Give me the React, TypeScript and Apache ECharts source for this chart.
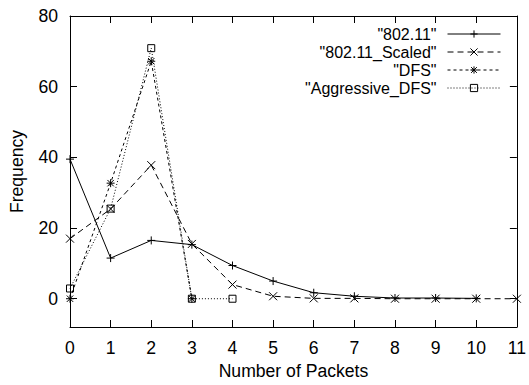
import React, { useEffect, useRef } from "react";
import * as echarts from "echarts";

const packets = [0, 1, 2, 3, 4, 5, 6, 7, 8, 9, 10, 11];
const seriesNames = ['"802.11"', '"802.11_Scaled"', '"DFS"', '"Aggressive_DFS"'];
const v80211 = [39.5, 11.5, 16.5, 15.3, 9.4, 5.0, 1.7, 0.7, 0.2, 0.2, 0.1];
const v80211Scaled = [17, 25.4, 37.8, 15.5, 4.0, 0.7, 0.1, 0.1, 0, 0, 0, 0];
const vDFS = [0, 32.7, 67.2, 0];
const vAggressive = [2.9, 25.5, 70.9, 0, 0];
const yTicks = [0, 20, 40, 60, 80];

const FONT = "'Liberation Sans', Arial, sans-serif";
const FS = 17.6;
const LEGEND_FS = 16;

const PLUS = "path://M0,5L10,5M5,0L5,10";
const CROSS = "path://M0,0L10,10M10,0L0,10";
const STAR = "path://M0,5L10,5M5,0L5,10M1,1L9,9M9,1L1,9";
const SQUARE = "path://M0,0L10,0L10,10L0,10Z";

function pairs(vals: number[]) {
  return vals.map((v, i) => [packets[i], v]);
}

export default function App() {
  const ref = useRef<HTMLDivElement>(null);
  useEffect(() => {
    if (!ref.current) return;
    const chart = echarts.init(ref.current, null, { renderer: "svg" });
    const mk = (name: string, vals: number[], symbol: string, dash: any, size: number) => ({
      name,
      type: "line",
      data: pairs(vals),
      symbol,
      symbolSize: size,
      showSymbol: true,
      lineStyle: { color: "#000", width: 1, type: dash },
      itemStyle: { color: "transparent", borderColor: "#000", borderWidth: 1 },
      emphasis: { disabled: true },
      z: 3,
    });
    const legendTops = [25, 43, 61, 79];
    chart.setOption({
      animation: false,
      textStyle: { fontFamily: FONT },
      grid: { left: 69, right: 8, top: 16, bottom: 58, containLabel: false },
      legend: seriesNames.map((n, i) => ({
        data: [n],
        orient: "vertical",
        right: 28,
        top: legendTops[i],
        align: "right",
        padding: 0,
        itemWidth: 53,
        itemHeight: 9,
        selectedMode: false,
        lineStyle: { width: 1 },
        itemStyle: { borderWidth: 1 },
        textStyle: {
          fontFamily: FONT,
          fontSize: LEGEND_FS,
          lineHeight: 18,
          color: "#000",
          padding: [0, 6, 0, 0],
        },
      })),
      xAxis: [
        {
          type: "value",
          min: 0,
          max: 11,
          interval: 1,
          position: "bottom",
          name: "Number of Packets",
          nameLocation: "middle",
          nameGap: 35,
          nameTextStyle: { fontFamily: FONT, fontSize: FS, color: "#000" },
          axisLine: { onZero: false, lineStyle: { color: "#000", width: 1 } },
          axisTick: { inside: true, length: 7, lineStyle: { color: "#000" } },
          axisLabel: { margin: 12, fontFamily: FONT, fontSize: FS, color: "#000" },
          splitLine: { show: false },
        },
        {
          type: "value",
          min: 0,
          max: 11,
          interval: 1,
          position: "top",
          axisLine: { onZero: false, lineStyle: { color: "#000", width: 1 } },
          axisTick: { inside: true, length: 7, lineStyle: { color: "#000" } },
          axisLabel: { show: false },
          splitLine: { show: false },
        },
      ],
      yAxis: [
        {
          type: "value",
          min: -8,
          max: 80,
          position: "left",
          name: "Frequency",
          nameLocation: "middle",
          nameGap: 44,
          nameTextStyle: { fontFamily: FONT, fontSize: FS, color: "#000" },
          axisLine: { onZero: false, lineStyle: { color: "#000", width: 1 } },
          axisTick: { inside: true, length: 7, customValues: yTicks, lineStyle: { color: "#000" } },
          axisLabel: { margin: 12, customValues: yTicks, fontFamily: FONT, fontSize: FS, color: "#000" },
          splitLine: { show: false },
        },
        {
          type: "value",
          min: -8,
          max: 80,
          position: "right",
          axisLine: { onZero: false, lineStyle: { color: "#000", width: 1 } },
          axisTick: { inside: true, length: 7, customValues: yTicks, lineStyle: { color: "#000" } },
          axisLabel: { show: false },
          splitLine: { show: false },
        },
      ],
      series: [
        mk(seriesNames[0], v80211, PLUS, "solid", 8),
        mk(seriesNames[1], v80211Scaled, CROSS, [6, 4], 8),
        mk(seriesNames[2], vDFS, STAR, [3, 3], 8),
        mk(seriesNames[3], vAggressive, SQUARE, [1, 2], 7),
      ],
    });
    return () => chart.dispose();
  }, []);
  return <div ref={ref} style={{ width: 529, height: 385, position: "absolute", left: 0, top: 0 }} />;
}
